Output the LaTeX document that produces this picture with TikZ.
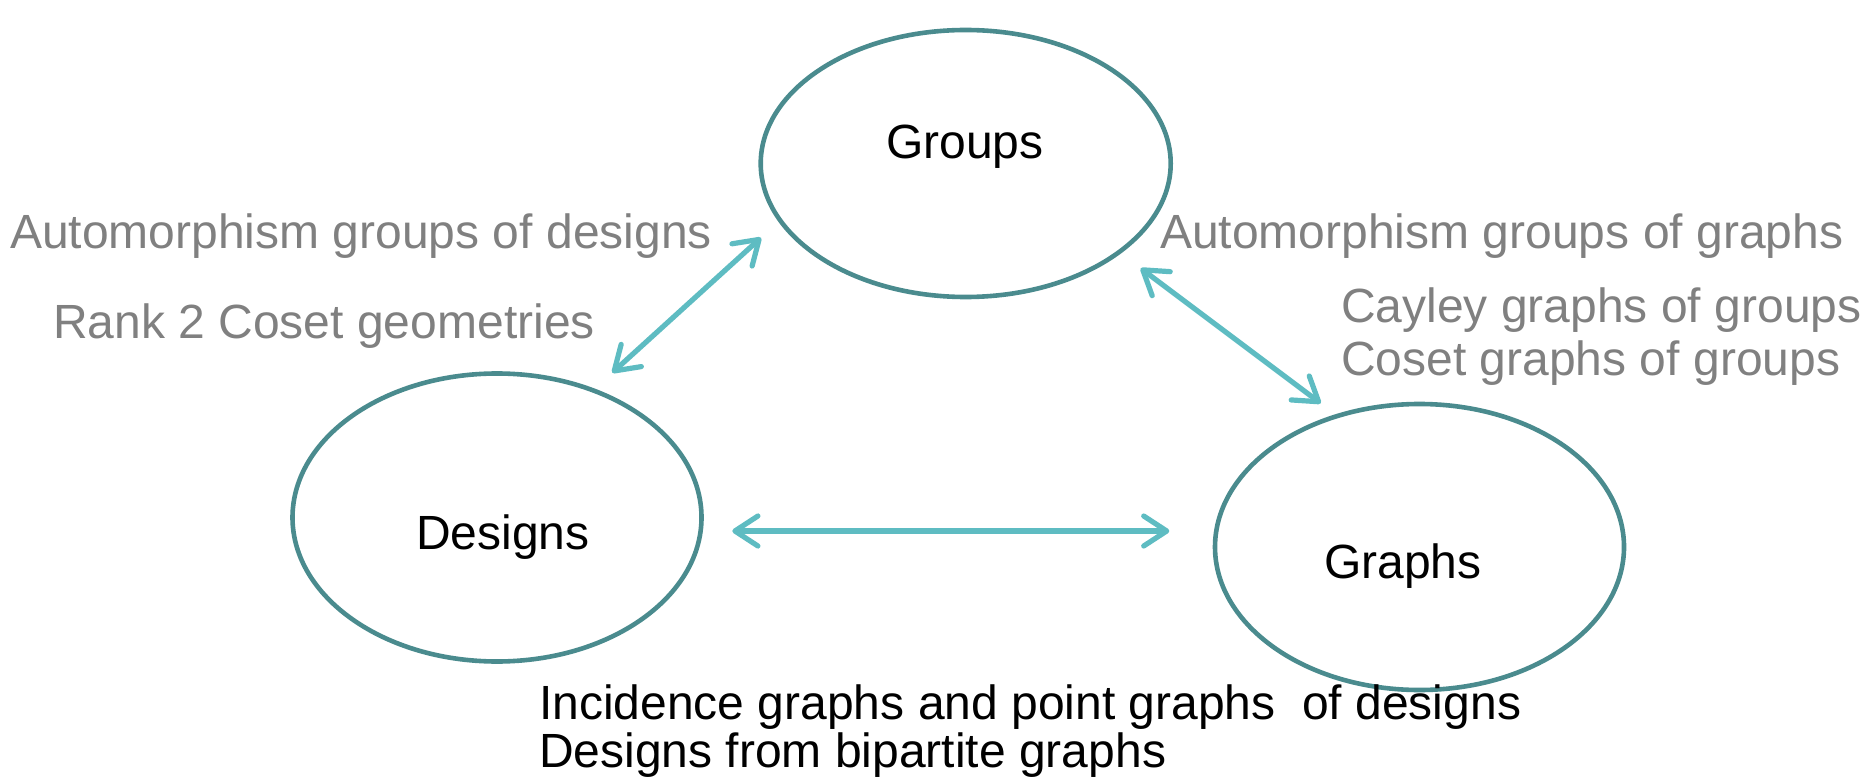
\documentclass[tikz,border=0pt]{standalone}
\usepackage{fontspec}
\setmainfont{Liberation Sans}
\usetikzlibrary{shapes.geometric,arrows.meta}
\definecolor{ringcol}{HTML}{4A8B8E}
\definecolor{linkcol}{HTML}{5EBCC2}
\definecolor{notecol}{HTML}{808080}
\tikzset{
  ring/.style={ellipse,draw=ringcol,line width=4.6pt,inner sep=0pt},
  title/.style={anchor=base west,inner sep=0pt,text=black,font=\fontsize{48}{57}\selectfont},
  note/.style={anchor=base west,inner sep=0pt,text=notecol,font=\fontsize{48}{57}\selectfont},
  fact/.style={anchor=base west,inner sep=0pt,text=black,font=\fontsize{48}{57}\selectfont},
  link/.style={draw=linkcol,line width=5.2pt,
    {Straight Barb[length=23pt,width=30pt,round]}-{Straight Barb[length=23pt,width=30pt,round]}}
}
\begin{document}
\begin{tikzpicture}[x=1pt,y=-1pt]
\useasboundingbox (0,0) rectangle (1870,783);

% the three areas
\node[ring,minimum width=410pt,minimum height=267pt] (groups) at (965.7,163.5) {};
\node[ring,minimum width=409pt,minimum height=288pt] (designs) at (497,517.5) {};
\node[ring,minimum width=409pt,minimum height=286pt] (graphs) at (1419.5,547) {};

\node[title] (groupsname) at (886,158.5) {Groups};
\node[title] (designsname) at (416,549) {Designs};
\node[title] (graphsname) at (1324,578) {Graphs};

% ends of the links between the areas
\coordinate (dgA) at (612.3,372.7);
\coordinate (dgB) at (761,237.7);
\coordinate (drA) at (732.3,531);
\coordinate (drB) at (1169.3,531);
\coordinate (grA) at (1140.7,268.3);
\coordinate (grB) at (1320.7,403.3);

\draw[link] (dgA) -- (dgB);
\draw[link] (drA) -- (drB);
\draw[link] (grA) -- (grB);

% descriptions of the links
\node[note] (autdes) at (10,249) {Automorphism groups of designs};
\node[note] (rank) at (53,338) {Rank 2 Coset geometries};
\node[note] (autgra) at (1160,249) {Automorphism groups of graphs};
\node[note] (cayley) at (1341,323) {Cayley graphs of groups};
\node[note] (coset) at (1341,375) {Coset graphs of groups};
\node[fact] (incid) at (539,719) {Incidence graphs and point graphs\ \ of designs};
\node[fact] (bipart) at (539,767) {Designs from bipartite graphs};
\end{tikzpicture}
\end{document}
